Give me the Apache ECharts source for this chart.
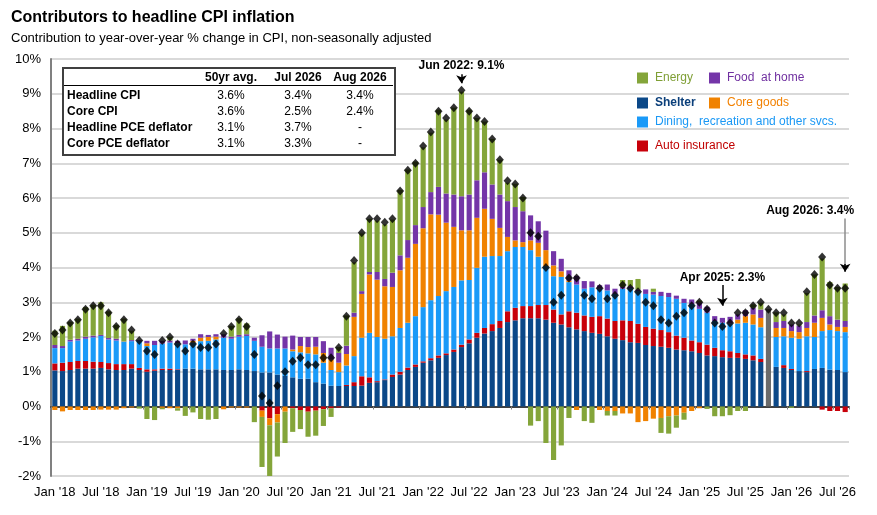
<!DOCTYPE html>
<html>
<head>
<meta charset="utf-8">
<script src="https://cdn.jsdelivr.net/npm/echarts@6/dist/echarts.min.js"></script>
<style>
html,body{margin:0;padding:0;background:#fff;}
#chart{width:877px;height:515px;}
</style>
</head>
<body>
<div id="chart"></div>
<script>
// monthly, Jan 2018 .. Aug 2026 (Oct 2025 not published -> null)
var monthNames = ['Jan','Feb','Mar','Apr','May','Jun','Jul','Aug','Sep','Oct','Nov','Dec'];
var categories = [];
for (var i = 0; i < 104; i++) {
    categories.push(monthNames[i % 12] + " '" + (18 + Math.floor(i / 12)));
}

var shelter = [
    1.04,1.02,1.05,1.09,1.09,1.09,1.11,1.07,1.05,1.05,1.09,1.05,
    1.00,1.03,1.05,1.05,1.05,1.09,1.09,1.07,1.07,1.07,1.05,1.05,
    1.07,1.05,1.02,0.98,0.98,0.92,0.88,0.84,0.80,0.80,0.70,0.66,
    0.60,0.59,0.59,0.59,0.60,0.68,0.70,0.76,0.85,0.92,1.05,1.14,
    1.26,1.33,1.40,1.48,1.57,1.71,1.82,1.98,2.10,2.17,2.26,2.43,
    2.48,2.54,2.54,2.54,2.50,2.41,2.36,2.28,2.22,2.17,2.12,2.09,
    2.02,1.95,1.91,1.85,1.83,1.77,1.74,1.72,1.69,1.64,1.62,1.59,
    1.54,1.47,1.45,1.42,1.40,1.40,1.37,1.33,1.28,null,1.14,1.11,
    1.05,1.02,0.99,1.08,1.11,1.06,1.05,0.99
];
var autoIns = [
    0.20,0.24,0.23,0.22,0.22,0.20,0.17,0.18,0.17,0.17,0.13,0.06,
    0.07,0.04,0.04,0.04,0.02,0,0,0,0,0,0,0,
    0,0,0,-0.12,-0.34,-0.22,0,-0.05,-0.10,-0.15,-0.12,-0.08,
    -0.05,-0.03,0.03,0.11,0.27,0.16,0.03,0.02,0.07,0.08,0.07,0.07,
    0.04,0.06,0.07,0.05,0.07,0.07,0.11,0.14,0.16,0.20,0.20,0.31,
    0.36,0.35,0.35,0.38,0.42,0.38,0.29,0.46,0.48,0.45,0.46,0.51,
    0.51,0.51,0.57,0.61,0.55,0.52,0.50,0.48,0.45,0.40,0.36,0.31,
    0.31,0.31,0.24,0.20,0.19,0.14,0.13,0.14,0.09,null,0,0.08,
    0.03,0,0.03,0,-0.09,-0.13,-0.13,-0.16
];
var dining = [
    0.44,0.42,0.59,0.59,0.64,0.70,0.75,0.68,0.68,0.64,0.66,0.78,
    0.67,0.70,0.72,0.75,0.75,0.70,0.75,0.81,0.82,0.86,0.93,0.90,
    0.94,0.98,0.87,0.74,0.69,0.75,0.79,0.75,0.76,0.73,0.80,0.60,
    0.45,0.40,0.56,0.75,1.11,1.28,1.27,1.17,1.10,1.26,1.29,1.39,
    1.56,1.67,1.71,1.79,1.80,1.85,1.71,1.87,2.05,1.96,1.87,1.73,
    1.75,1.70,1.61,1.39,1.12,0.96,1.08,0.84,0.81,0.77,0.85,0.79,
    0.81,0.78,0.91,0.95,0.94,0.95,0.98,0.98,1.01,1.06,1.00,1.05,
    0.96,0.92,0.77,0.79,0.80,0.85,0.91,0.89,0.91,null,0.86,0.83,
    0.90,0.93,1.00,0.92,1.06,1.14,1.12,1.15
];
var coreGoods = [
    -0.10,-0.14,-0.10,-0.10,-0.10,-0.10,-0.09,-0.09,-0.09,-0.05,-0.03,0,
    0.08,0,-0.04,-0.05,-0.05,0,0.05,0.10,0.11,0.08,-0.08,-0.03,
    -0.03,-0.03,0,-0.18,-0.20,-0.24,-0.15,0.05,0.18,0.18,0.22,0.28,
    0.30,0.27,0.33,1.13,1.26,1.68,1.65,1.51,1.42,1.66,1.87,2.08,
    2.27,2.47,2.34,1.97,1.73,1.44,1.43,1.44,1.38,1.07,0.81,0.41,
    0.19,0.14,0.28,0.40,0.46,0.31,0.16,0.04,-0.10,0,0,-0.10,
    -0.13,-0.13,-0.20,-0.20,-0.45,-0.42,-0.35,-0.33,-0.28,-0.26,-0.18,-0.13,
    -0.05,0,0,0,0,0.11,0.19,0.29,0.27,null,0.26,0.24,
    0.19,0.19,0.24,0.41,0.38,0.16,0.12,0.15
];
var foodHome = [
    0.09,0.06,0.05,0.05,0.06,0.05,0.03,0.04,0.05,0.01,0.03,0.02,
    0.07,0.12,0.08,0.06,0.07,0.11,0.06,0.10,0.06,0.07,0.10,0.06,
    0.05,0.05,0.09,0.33,0.49,0.40,0.34,0.40,0.26,0.29,0.28,0.34,
    0.34,0.28,0.24,0.12,0.08,0.07,0.22,0.21,0.41,0.43,0.51,0.54,
    0.61,0.64,0.80,0.84,0.93,0.98,1.03,1.08,1.05,0.99,0.96,1.03,
    0.96,0.89,0.72,0.62,0.56,0.41,0.36,0.30,0.25,0.22,0.17,0.10,
    0.17,0.15,0.05,0.05,0.05,0.13,0.08,0.12,0.12,0.09,0.12,0.13,
    0.19,0.17,0.14,0.14,0.19,0.15,0.17,0.19,0.24,null,0.17,0.20,
    0.19,0.19,0.17,0.21,0.22,0.24,0.21,0.17
];
var energy = [
    0.41,0.58,0.52,0.58,0.85,0.89,0.94,0.77,0.40,0.66,0.27,-0.06,
    -0.36,-0.39,-0.04,0.10,-0.07,-0.27,-0.17,-0.36,-0.38,-0.36,0,0.31,
    0.48,0.31,-0.45,-1.44,-1.50,-0.98,-0.90,-0.68,-0.55,-0.72,-0.72,-0.48,
    -0.25,0.17,0.87,1.45,1.66,1.53,1.48,1.57,1.53,1.88,2.03,1.83,
    1.72,1.71,2.22,2.13,2.50,3.01,2.44,1.79,1.46,1.31,1.00,0.53,
    0.67,0.41,-0.55,-0.42,-1.05,-1.54,-1.12,-0.33,0,-0.42,-0.47,0,
    -0.13,-0.13,0.20,0.18,0.30,0,0.09,-0.43,-0.50,-0.35,-0.20,0,
    0.05,-0.07,-0.28,-0.28,-0.25,-0.13,-0.13,0.10,0.19,null,0.28,0.19,
    -0.04,0.03,0.84,1.18,1.49,0.98,0.94,1.08
];
// Oct 2025: headline only, no breakdown
var notAvailable = [];
for (var j = 0; j < 104; j++) notAvailable.push(j === 93 ? 2.8 : null);

var headline = [
    2.1,2.2,2.4,2.5,2.8,2.9,2.9,2.7,2.3,2.5,2.2,1.9,
    1.6,1.5,1.9,2.0,1.8,1.6,1.8,1.7,1.7,1.8,2.1,2.3,
    2.5,2.3,1.5,0.3,0.1,0.6,1.0,1.3,1.4,1.2,1.2,1.4,
    1.4,1.7,2.6,4.2,5.0,5.4,5.4,5.3,5.4,6.2,6.8,7.0,
    7.5,7.9,8.5,8.3,8.6,9.1,8.5,8.3,8.2,7.7,7.1,6.5,
    6.4,6.0,5.0,4.9,4.0,3.0,3.2,3.7,3.7,3.2,3.1,3.4,
    3.1,3.2,3.5,3.4,3.3,3.0,2.9,2.5,2.4,2.6,2.7,2.9,
    3.0,2.8,2.4,2.3,2.4,2.7,2.7,2.9,3.0,2.8,2.7,2.7,
    2.4,2.4,3.3,3.8,4.3,3.5,3.4,3.4
];

var tableHeader = ['50yr avg.', 'Jul 2026', 'Aug 2026'];
var tableRows = [
    ['Headline CPI', '3.6%', '3.4%', '3.4%'],
    ['Core CPI', '3.6%', '2.5%', '2.4%'],
    ['Headline PCE deflator', '3.1%', '3.7%', '-'],
    ['Core PCE deflator', '3.1%', '3.3%', '-']
];

var FONT = 'Arial, "Liberation Sans", sans-serif';

var chart = echarts.init(document.getElementById('chart'));

function barSeries(name, data, color) {
    return {
        name: name, type: 'bar', stack: 'cpi', data: data,
        barCategoryGap: '33%',
        itemStyle: { color: color },
        emphasis: { disabled: true },
        xAxisIndex: 0
    };
}

function legendAt(name, color, left, top, bold) {
    return {
        data: [name], left: left, top: top, padding: 0,
        icon: 'rect', itemWidth: 11, itemHeight: 11, itemGap: 0,
        selectedMode: false,
        textStyle: { color: color, fontSize: 12, fontFamily: FONT, fontWeight: bold ? 'bold' : 'normal', padding: [0, 0, 0, 2] }
    };
}

// table drawn as graphic
var tbl = [];
var colX = [231, 298, 360];
tbl.push({ type: 'rect', shape: { x: 63, y: 68, width: 332, height: 87 }, style: { fill: '#fff', stroke: '#404040', lineWidth: 2 }, z: 100 });
tbl.push({ type: 'line', shape: { x1: 64, y1: 85.5, x2: 393, y2: 85.5 }, style: { stroke: '#000', lineWidth: 1 }, z: 101 });
tableHeader.forEach(function (h, k) {
    tbl.push({ type: 'text', x: colX[k], y: 78, z: 101,
        style: { text: h, font: 'bold 12px ' + FONT, align: 'center', verticalAlign: 'middle', fill: '#000' } });
});
tableRows.forEach(function (r, k) {
    var y = 96 + k * 16;
    tbl.push({ type: 'text', x: 67, y: y, z: 101,
        style: { text: r[0], font: 'bold 12px ' + FONT, align: 'left', verticalAlign: 'middle', fill: '#000' } });
    for (var c = 1; c < 4; c++) {
        tbl.push({ type: 'text', x: colX[c - 1], y: y, z: 101,
            style: { text: r[c], font: '12px ' + FONT, align: 'center', verticalAlign: 'middle', fill: '#000' } });
    }
});

var annoStyle = { fontSize: 12, fontWeight: 'bold', fontFamily: FONT, color: '#000' };

var option = {
    animation: false,
    textStyle: { fontFamily: FONT },
    title: {
        text: 'Contributors to headline CPI inflation',
        subtext: 'Contribution to year-over-year % change in CPI, non-seasonally adjusted',
        left: 11, top: 10, padding: 0, itemGap: 6,
        textStyle: { fontSize: 16, fontWeight: 'bold', color: '#000', fontFamily: FONT },
        subtextStyle: { fontSize: 13, color: '#000', fontFamily: FONT }
    },
    legend: [
        legendAt('Energy', '#7f9f35', 637, 72),
        legendAt('Food  at home', '#7030a0', 709, 72),
        legendAt('Shelter', '#0b3f7a', 637, 97, true),
        legendAt('Core goods', '#f28100', 709, 97),
        legendAt('Dining,  recreation and other svcs.', '#1a98f5', 637, 116),
        legendAt('Auto insurance', '#c00000', 637, 140)
    ],
    grid: { left: 51, right: 28, top: 59, bottom: 39, containLabel: false },
    xAxis: [{
        type: 'category', data: categories, position: 'bottom',
        axisLine: { show: false, onZero: false },
        axisTick: { show: false },
        axisLabel: {
            interval: function (idx) { return idx % 6 === 0; },
            fontSize: 13, color: '#000', margin: 10, fontFamily: FONT
        }
    }, {
        type: 'category', data: categories, position: 'bottom',
        axisLine: { show: true, onZero: true, lineStyle: { color: '#404040', width: 2 } },
        axisTick: { show: true, interval: 5, length: 3, lineStyle: { color: '#808080' } },
        axisLabel: { show: false }
    }],
    yAxis: {
        type: 'value', min: -2, max: 10, interval: 1,
        axisLine: { show: true, lineStyle: { color: '#808080', width: 2 } },
        axisTick: { show: false },
        axisLabel: { formatter: '{value}%', fontSize: 13, color: '#000', margin: 10, fontFamily: FONT },
        splitLine: { lineStyle: { color: '#d9d9d9', width: 2 } }
    },
    series: [
        barSeries('Shelter', shelter, '#0b4888'),
        barSeries('Auto insurance', autoIns, '#c8000a'),
        barSeries('Dining,  recreation and other svcs.', dining, '#1a9af8'),
        barSeries('Core goods', coreGoods, '#f08200'),
        barSeries('Food  at home', foodHome, '#7435a8'),
        barSeries('Energy', energy, '#84a53a'),
        barSeries('n/a', notAvailable, '#6b6b6b'),
        {
            name: 'Headline CPI', type: 'scatter', data: headline, xAxisIndex: 0,
            symbol: 'diamond', symbolSize: [8, 9], z: 10,
            itemStyle: { color: '#000' }, emphasis: { disabled: true },
            markPoint: {
                silent: true, symbol: 'circle', symbolSize: 0,
                label: { show: true, position: 'inside' },
                data: [
                    { coord: [categories[53], 9.8], label: Object.assign({ formatter: 'Jun 2022: 9.1%' }, annoStyle) },
                    { coord: [categories[87], 3.71], label: Object.assign({ formatter: 'Apr 2025: 2.3%' }, annoStyle) },
                    { coord: [categories[103], 5.64], label: Object.assign({ formatter: 'Aug 2026: 3.4%', align: 'right', offset: [9, 0] }, annoStyle) }
                ]
            },
            markLine: {
                silent: true, symbol: ['none', 'arrow'], symbolSize: 8,
                label: { show: false }, emphasis: { disabled: true },
                lineStyle: { color: '#000', width: 1.5, type: 'solid' },
                data: [
                    [{ coord: [categories[53], 9.56] }, { coord: [categories[53], 9.3] }],
                    [{ coord: [categories[87], 3.5] }, { coord: [categories[87], 2.9] }],
                    [{ coord: [categories[103], 5.41], symbol: 'none', lineStyle: { color: '#8c8c8c' } },
                     { coord: [categories[103], 4.05], symbol: 'none' }],
                    [{ coord: [categories[103], 4.1] }, { coord: [categories[103], 3.88] }]
                ]
            }
        }
    ],
    graphic: tbl
};

chart.setOption(option);
</script>
</body>
</html>
